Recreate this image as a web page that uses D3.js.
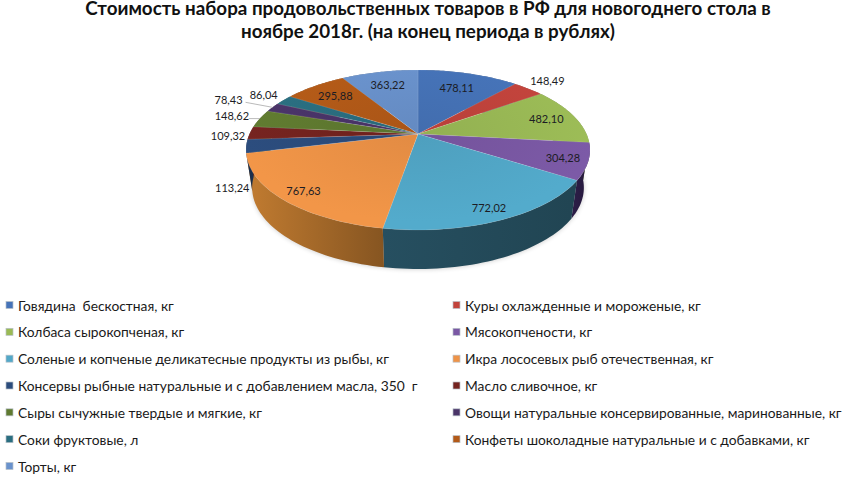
<!DOCTYPE html>
<html lang="ru">
<head>
  <meta charset="UTF-8">
  <script src="https://d3js.org/d3.v7.min.js"></script>
  <title>Стоимость набора продовольственных товаров</title>
  <style>
    html, body { margin: 0; padding: 0; background: #fff; }
    svg { display: block; font-family: Lato, "Open Sans", sans-serif; }
    text { white-space: pre; }
  </style>
</head>
<body>
  <svg width="850" height="485"></svg>
  <script>
    const titleLines = [
      "Стоимость набора продовольственных товаров в РФ для новогоднего стола в",
      "ноябре 2018г. (на конец периода в рублях)"
    ];
    const categories = [
      "Говядина  бескостная, кг",
      "Куры охлажденные и мороженые, кг",
      "Колбаса сырокопченая, кг",
      "Мясокопчености, кг",
      "Соленые и копченые деликатесные продукты из рыбы, кг",
      "Икра лососевых рыб отечественная, кг",
      "Консервы рыбные натуральные и с добавлением масла, 350  г",
      "Масло сливочное, кг",
      "Сыры сычужные твердые и мягкие, кг",
      "Овощи натуральные консервированные, маринованные, кг",
      "Соки фруктовые, л",
      "Конфеты шоколадные натуральные и с добавками, кг",
      "Торты, кг"
    ];
    const values = [478.11, 148.49, 482.10, 304.28, 772.02, 767.63, 113.24, 109.32, 148.62, 78.43, 86.04, 295.88, 363.22];

    const topColors = ["#4673b8", "#c2443c", "#9aba55", "#7a58a4", "#52a8c8", "#ee9347", "#2b4c7c", "#74231f", "#5f7a30", "#4a3468", "#2a6e80", "#b35a18", "#6a92cc"];
    const sideColors = ["#2c4a76", "#7c2b26", "#627736", "#2a1c44", "#234a59", "#a06628", "#1c3252", "#4a1614", "#3d4e1f", "#2f2143", "#1a4753", "#733a0f", "#445e84"];

    // подписи: доля радиуса от вершины и сдвиг в пикселях
    const labelRadius = [0.74, 1.2, 0.82, 0.86, 0.875, 0.87, 1, 1, 1, 1, 1, 0.78, 0.76];
    const labelNudge = [[0,0],[0,0],[0,0],[0,0],[0,0],[0,0],[-14,41],[-22,3],[-28,-3],[-44,-8],[-20,-6],[0,0],[0,0]];
    const leaders = [8, 9]; // подписи с выноской

    const svg = d3.select("svg");
    const defs = svg.append("defs");

    // наклонённый диск: вершина в cx,cy, дальний край меньше ближнего
    const cx = 418, cy = 134, k = 0.2;
    const xTop = d3.scaleLinear().domain([-1, 1]).range([cx - 168.5, cx + 168.5]);
    const yTop = d3.scaleLinear().domain([-1, 1]).range([cy + 76.8, cy - 76.8]);
    const xBot = d3.scaleLinear().domain([-1, 1]).range([cx - 162.5, cx + 162.5]);
    const yBot = d3.scaleLinear().domain([-1, 1]).range([cy + 37.5 + 78, cy + 37.5 - 78]);

    const project = (angle, r, xs, ys) => {
      const u = r * Math.sin(angle), v = r * Math.cos(angle), w = 1 + k * v;
      return [xs(u / w), ys(v / w)];
    };
    const rim = (a0, a1, xs, ys) => d3.range(0, 41).map(i => project(a0 + (a1 - a0) * i / 40, 1, xs, ys));
    const mid = p => (p.startAngle + p.endAngle) / 2;

    const pie = d3.pie().sort(null)(values);
    const line = d3.line();

    // мягкая тень под диском
    const blur = defs.append("filter").attr("id", "soft").attr("x", "-10%").attr("y", "-10%").attr("width", "120%").attr("height", "120%");
    blur.append("feGaussianBlur").attr("stdDeviation", 2.5);
    svg.append("path")
      .attr("d", line(rim(Math.PI * 0.5, Math.PI * 1.5, xBot, yBot)) + "Z")
      .attr("fill", "#000").attr("opacity", 0.22).attr("filter", "url(#soft)");

    pie.forEach((p, i) => {
      const a = project(p.startAngle, 1, xBot, yBot), b = project(p.endAngle, 1, xBot, yBot);
      const g = defs.append("linearGradient").attr("id", "side" + i).attr("gradientUnits", "userSpaceOnUse")
        .attr("x1", a[0]).attr("x2", b[0]).attr("y1", 0).attr("y2", 0);
      g.append("stop").attr("offset", 0).attr("stop-color", d3.color(sideColors[i]).darker(i === 5 ? 0.5 : 0.2));
      g.append("stop").attr("offset", 1).attr("stop-color", d3.color(sideColors[i]).brighter(i === 5 ? 0.5 : 0.2));

      const t = project(p.startAngle, 0, xTop, yTop);
      const r = defs.append("radialGradient").attr("id", "top" + i).attr("gradientUnits", "userSpaceOnUse")
        .attr("cx", t[0]).attr("cy", t[1]).attr("r", 175)
        .attr("gradientTransform", `translate(${t[0]},${t[1]}) scale(1,0.5) translate(${-t[0]},${-t[1]})`);
      r.append("stop").attr("offset", 0).attr("stop-color", d3.color(topColors[i]).darker(0.15));
      r.append("stop").attr("offset", 1).attr("stop-color", d3.color(topColors[i]).brighter(0.05));
    });

    // боковая стенка
    svg.append("g").selectAll("path").data(pie).join("path")
      .attr("d", p => line(rim(p.startAngle, p.endAngle, xTop, yTop).concat(rim(p.startAngle, p.endAngle, xBot, yBot).reverse())) + "Z")
      .attr("fill", (p, i) => `url(#side${i})`);

    // верхняя грань
    svg.append("g").selectAll("path").data(pie).join("path")
      .attr("d", p => line([project(p.startAngle, 0, xTop, yTop)].concat(rim(p.startAngle, p.endAngle, xTop, yTop))) + "Z")
      .attr("fill", (p, i) => `url(#top${i})`)
      .attr("stroke", "#fff").attr("stroke-opacity", 0.18).attr("stroke-width", 0.6);

    // подписи значений
    const fmt = v => v.toFixed(2).replace(".", ",");
    const labelPos = pie.map((p, i) => {
      const q = project(mid(p), labelRadius[i], xTop, yTop);
      return [q[0] + labelNudge[i][0], q[1] + labelNudge[i][1]];
    });
    svg.append("g").selectAll("text").data(pie).join("text")
      .attr("x", (p, i) => labelPos[i][0]).attr("y", (p, i) => labelPos[i][1])
      .attr("text-anchor", "middle").attr("dominant-baseline", "central")
      .attr("font-size", 11).attr("fill", "#1c1c24")
      .text(p => fmt(p.value));

    svg.append("g").selectAll("line").data(leaders).join("line")
      .attr("x1", i => project(mid(pie[i]), 1, xTop, yTop)[0])
      .attr("y1", i => project(mid(pie[i]), 1, xTop, yTop)[1])
      .attr("x2", i => labelPos[i][0] + 17)
      .attr("y2", i => labelPos[i][1] + 3)
      .attr("stroke", "#a8a8a8").attr("stroke-width", 0.8);

    // заголовок
    svg.append("g").selectAll("text").data(titleLines).join("text")
      .attr("x", 428).attr("y", (d, i) => 14.5 + i * 23.5)
      .attr("text-anchor", "middle")
      .attr("font-size", 18.8).attr("font-weight", 700).attr("fill", "#111")
      .text(d => d);

    // легенда в две колонки
    const legendX = d3.scalePoint().domain([0, 1]).range([6, 453]);
    const legendY = d3.scaleLinear().domain([0, 6]).range([305, 466]);
    const legend = svg.append("g").selectAll("g").data(categories).join("g")
      .attr("transform", (d, i) => `translate(${legendX(i % 2)},${legendY(Math.floor(i / 2))})`);
    legend.append("rect").attr("x", 0).attr("y", -3.5).attr("width", 7).attr("height", 7)
      .attr("fill", (d, i) => topColors[i]).attr("stroke", "#b8c0c8").attr("stroke-width", 0.7);
    legend.append("text").attr("x", 12).attr("y", 0)
      .attr("dominant-baseline", "central")
      .attr("font-size", 13.8).attr("fill", "#1a1a1a")
      .text(d => d);
  </script>
</body>
</html>
